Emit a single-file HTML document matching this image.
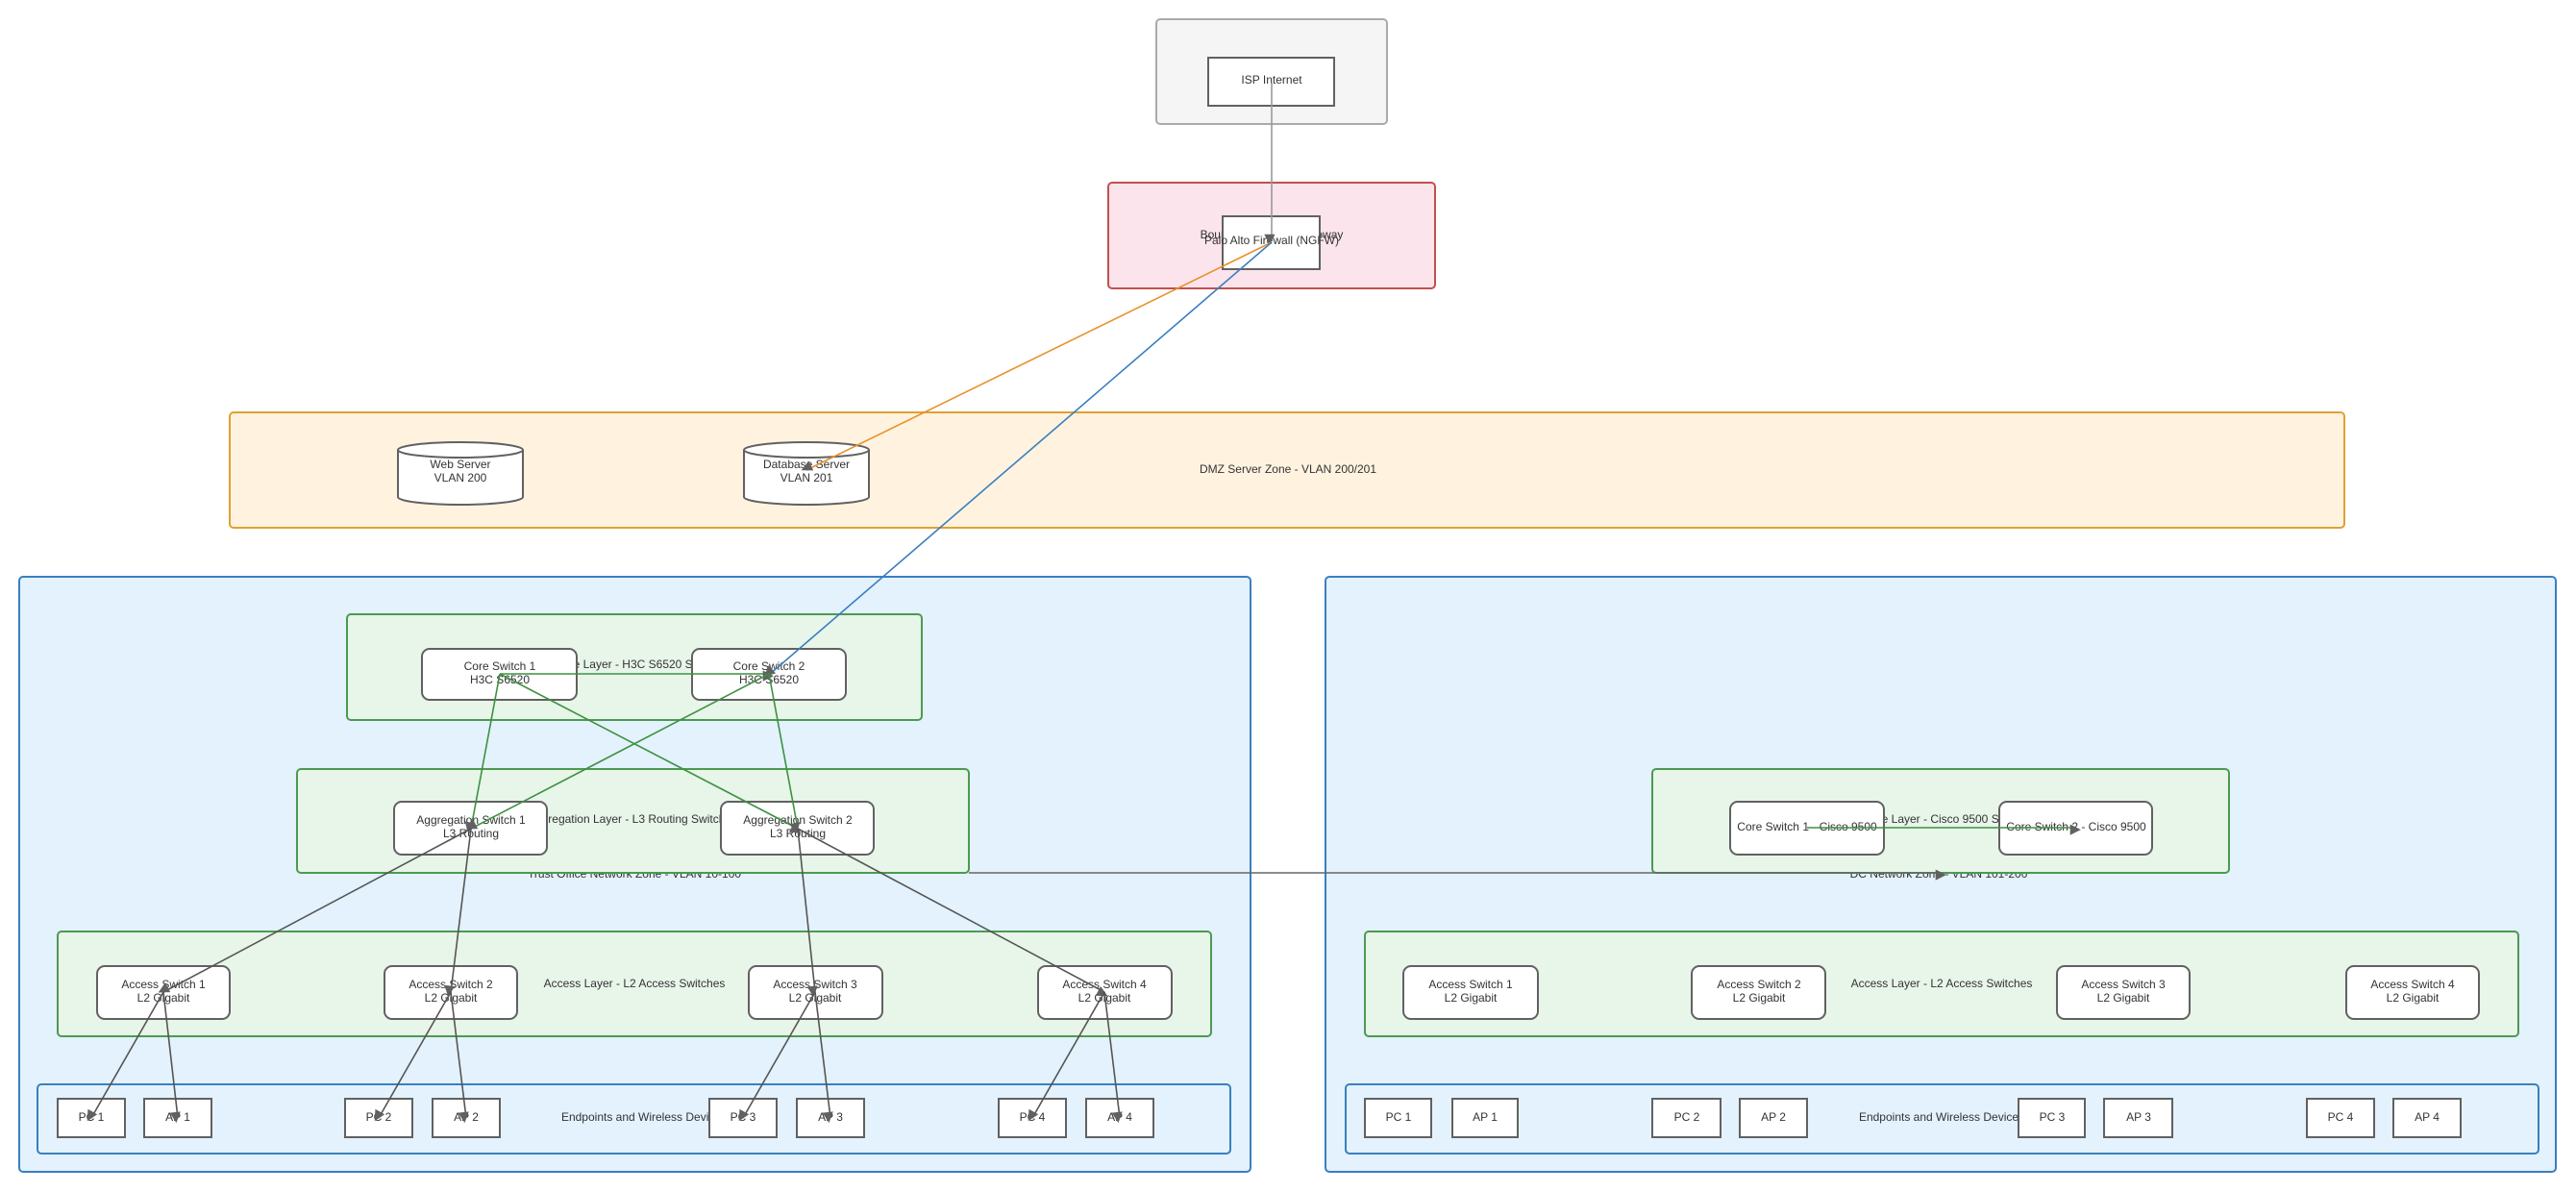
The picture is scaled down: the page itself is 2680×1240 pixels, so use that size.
<!DOCTYPE html>
<html><head><meta charset="utf-8"><style>
html,body{margin:0;padding:0;background:#fff}
svg{display:block}
text{font-family:"Liberation Sans",sans-serif;font-size:12px;fill:#333;text-anchor:middle;dominant-baseline:middle}
.n{fill:#fff;stroke:#616161;stroke-width:2}
</style></head><body>
<svg width="2680" height="1240" viewBox="0 0 2680 1240" xmlns="http://www.w3.org/2000/svg">
<defs>
<marker id="a" viewBox="0 0 10 10" refX="9" refY="5" markerWidth="7" markerHeight="7" orient="auto" markerUnits="userSpaceOnUse" style="overflow:visible"><path d="M0,0L10,5L0,10z" fill="#616161" transform="scale(1.6)"/></marker>
</defs>
<rect x="1203" y="20" width="240" height="109" rx="4" fill="#f5f5f5" stroke="#aaa" stroke-width="2"/>
<rect x="1153" y="190" width="340" height="110" rx="4" fill="#fce4ec" stroke="#c0504d" stroke-width="2"/>
<text x="1323" y="245">Boundary Security Gateway</text>
<rect x="239" y="429" width="2200" height="120" rx="4" fill="#fff3e0" stroke="#e0a030" stroke-width="2"/>
<text x="1340" y="489">DMZ Server Zone - VLAN 200/201</text>
<rect x="20" y="600" width="1281" height="619" rx="4" fill="#e3f2fd" stroke="#3a7fc0" stroke-width="2"/>
<text x="660" y="910">Trust Office Network Zone - VLAN 10-100</text>
<rect x="1379" y="600" width="1280" height="619" rx="4" fill="#e3f2fd" stroke="#3a7fc0" stroke-width="2"/>
<text x="2017" y="910">DC Network Zone - VLAN 101-200</text>
<rect x="361" y="639" width="598" height="110" rx="4" fill="#e8f5e9" stroke="#4c9a50" stroke-width="2"/>
<text x="660" y="692">Core Layer - H3C S6520 Stack</text>
<rect x="309" y="800" width="699" height="108" rx="4" fill="#e8f5e9" stroke="#4c9a50" stroke-width="2"/>
<text x="658" y="853">Aggregation Layer - L3 Routing Switches</text>
<rect x="60" y="969" width="1200" height="109" rx="4" fill="#e8f5e9" stroke="#4c9a50" stroke-width="2"/>
<text x="660" y="1024">Access Layer - L2 Access Switches</text>
<rect x="39" y="1128" width="1241" height="72" rx="4" fill="#e3f2fd" stroke="#3a7fc0" stroke-width="2"/>
<text x="670" y="1163">Endpoints and Wireless Devices</text>
<rect x="1719" y="800" width="600" height="108" rx="4" fill="#e8f5e9" stroke="#4c9a50" stroke-width="2"/>
<text x="2020" y="853">Core Layer - Cisco 9500 Stack</text>
<rect x="1420" y="969" width="1200" height="109" rx="4" fill="#e8f5e9" stroke="#4c9a50" stroke-width="2"/>
<text x="2020" y="1024">Access Layer - L2 Access Switches</text>
<rect x="1400" y="1128" width="1241" height="72" rx="4" fill="#e3f2fd" stroke="#3a7fc0" stroke-width="2"/>
<text x="2020" y="1163">Endpoints and Wireless Devices</text>

<rect class="n" x="1257" y="60" width="131" height="50"/><text x="1323" y="84">ISP Internet</text>
<rect class="n" x="1272" y="225" width="101" height="55"/><text x="1323" y="251">Palo Alto Firewall (NGFW)</text>
<g class="n"><path d="M414,468 v49 a65,8 0 0 0 130,0 v-49" /><ellipse cx="479" cy="468" rx="65" ry="8"/></g>
<text x="479" y="484">Web Server</text><text x="479" y="498">VLAN 200</text>
<g class="n"><path d="M774,468 v49 a65,8 0 0 0 130,0 v-49" /><ellipse cx="839" cy="468" rx="65" ry="8"/></g>
<text x="839" y="484">Database Server</text><text x="839" y="498">VLAN 201</text>

<rect class="n" x="439" y="675" width="161" height="53" rx="8"/><text x="520" y="694">Core Switch 1</text><text x="520" y="708">H3C S6520</text>
<rect class="n" x="720" y="675" width="160" height="53" rx="8"/><text x="800" y="694">Core Switch 2</text><text x="800" y="708">H3C S6520</text>
<rect class="n" x="410" y="834" width="159" height="55" rx="8"/><text x="490" y="854">Aggregation Switch 1</text><text x="490" y="868">L3 Routing</text>
<rect class="n" x="750" y="834" width="159" height="55" rx="8"/><text x="830" y="854">Aggregation Switch 2</text><text x="830" y="868">L3 Routing</text>
<rect class="n" x="101" y="1005" width="138" height="55" rx="8"/><text x="170" y="1025">Access Switch 1</text><text x="170" y="1039">L2 Gigabit</text>
<rect class="n" x="400" y="1005" width="138" height="55" rx="8"/><text x="469" y="1025">Access Switch 2</text><text x="469" y="1039">L2 Gigabit</text>
<rect class="n" x="779" y="1005" width="139" height="55" rx="8"/><text x="848" y="1025">Access Switch 3</text><text x="848" y="1039">L2 Gigabit</text>
<rect class="n" x="1080" y="1005" width="139" height="55" rx="8"/><text x="1149" y="1025">Access Switch 4</text><text x="1149" y="1039">L2 Gigabit</text>
<rect class="n" x="60" y="1143" width="70" height="40"/><text x="95" y="1163">PC 1</text>
<rect class="n" x="150" y="1143" width="70" height="40"/><text x="185" y="1163">AP 1</text>
<rect class="n" x="359" y="1143" width="70" height="40"/><text x="394" y="1163">PC 2</text>
<rect class="n" x="450" y="1143" width="70" height="40"/><text x="485" y="1163">AP 2</text>
<rect class="n" x="738" y="1143" width="70" height="40"/><text x="773" y="1163">PC 3</text>
<rect class="n" x="829" y="1143" width="70" height="40"/><text x="864" y="1163">AP 3</text>
<rect class="n" x="1039" y="1143" width="70" height="40"/><text x="1074" y="1163">PC 4</text>
<rect class="n" x="1130" y="1143" width="70" height="40"/><text x="1165" y="1163">AP 4</text>

<rect class="n" x="1800" y="834" width="160" height="55" rx="8"/><text x="1880" y="861">Core Switch 1 - Cisco 9500</text>
<rect class="n" x="2080" y="834" width="159" height="55" rx="8"/><text x="2160" y="861">Core Switch 2 - Cisco 9500</text>
<rect class="n" x="1460" y="1005" width="140" height="55" rx="8"/><text x="1530" y="1025">Access Switch 1</text><text x="1530" y="1039">L2 Gigabit</text>
<rect class="n" x="1760" y="1005" width="139" height="55" rx="8"/><text x="1830" y="1025">Access Switch 2</text><text x="1830" y="1039">L2 Gigabit</text>
<rect class="n" x="2140" y="1005" width="138" height="55" rx="8"/><text x="2209" y="1025">Access Switch 3</text><text x="2209" y="1039">L2 Gigabit</text>
<rect class="n" x="2441" y="1005" width="138" height="55" rx="8"/><text x="2510" y="1025">Access Switch 4</text><text x="2510" y="1039">L2 Gigabit</text>
<rect class="n" x="1420" y="1143" width="69" height="40"/><text x="1455" y="1163">PC 1</text>
<rect class="n" x="1511" y="1143" width="68" height="40"/><text x="1545" y="1163">AP 1</text>
<rect class="n" x="1719" y="1143" width="71" height="40"/><text x="1755" y="1163">PC 2</text>
<rect class="n" x="1810" y="1143" width="70" height="40"/><text x="1845" y="1163">AP 2</text>
<rect class="n" x="2100" y="1143" width="69" height="40"/><text x="2135" y="1163">PC 3</text>
<rect class="n" x="2189" y="1143" width="71" height="40"/><text x="2225" y="1163">AP 3</text>
<rect class="n" x="2400" y="1143" width="70" height="40"/><text x="2435" y="1163">PC 4</text>
<rect class="n" x="2490" y="1143" width="70" height="40"/><text x="2525" y="1163">AP 4</text>

<g fill="none" stroke-width="1.6">
<path d="M1323,86 V250" stroke="#999" marker-end="url(#a)"/>
<path d="M1323,252 L839,489" stroke="#e8902a" marker-end="url(#a)"/>
<path d="M1323,252 L800,702" stroke="#3a7fc0" marker-end="url(#a)"/>
<path d="M1008,908 H2020" stroke="#666" marker-end="url(#a)"/>
<g stroke="#3d9140">
<path d="M520,701 H800" marker-end="url(#a)"/>
<path d="M520,701 L490,862" marker-end="url(#a)"/>
<path d="M520,701 L830,862" marker-end="url(#a)"/>
<path d="M800,701 L490,862" marker-end="url(#a)"/>
<path d="M800,701 L830,862" marker-end="url(#a)"/>
<path d="M1880,861 H2160" marker-end="url(#a)"/>
</g>
<g stroke="#555">
<path d="M490,862 L170,1032" marker-end="url(#a)"/>
<path d="M490,862 L469,1032" marker-end="url(#a)"/>
<path d="M830,862 L848,1032" marker-end="url(#a)"/>
<path d="M830,862 L1149,1032" marker-end="url(#a)"/>
<path d="M170,1032 L95,1163" marker-end="url(#a)"/>
<path d="M170,1032 L185,1163" marker-end="url(#a)"/>
<path d="M469,1032 L394,1163" marker-end="url(#a)"/>
<path d="M469,1032 L485,1163" marker-end="url(#a)"/>
<path d="M848,1032 L773,1163" marker-end="url(#a)"/>
<path d="M848,1032 L864,1163" marker-end="url(#a)"/>
<path d="M1149,1032 L1074,1163" marker-end="url(#a)"/>
<path d="M1149,1032 L1165,1163" marker-end="url(#a)"/>
</g>
</g>
</svg>
</body></html>
